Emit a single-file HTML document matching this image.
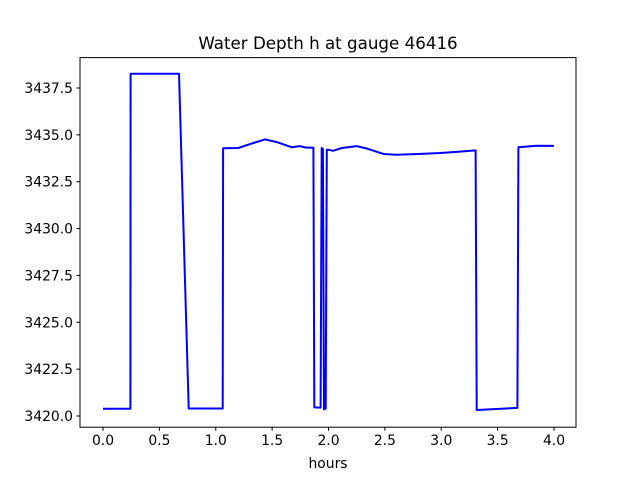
<!DOCTYPE html>
<html><head><meta charset="utf-8"><style>
html,body{margin:0;padding:0;background:#fff;}
svg text{font-family:"DejaVu Sans","Liberation Sans",sans-serif;fill:#000;}
</style></head><body>
<svg id="chart" width="640" height="480" viewBox="0 0 640 480" xmlns="http://www.w3.org/2000/svg">
<rect width="640" height="480" fill="#fff"/>
<text x="328" y="49" font-size="16.7" text-anchor="middle">Water Depth h at gauge 46416</text>
<text x="328" y="468" font-size="13.9" text-anchor="middle">hours</text>
<g id="ticks"></g>
<polyline id="series" fill="none" stroke="#0000ff" stroke-width="2" stroke-linejoin="round"/>
<rect x="80" y="57.6" width="496" height="369.6" fill="none" stroke="#000" stroke-width="1"/>
</svg>
<script>
const hours = [0,0.243,0.245,0.674,0.76,1.062,1.065,1.2,1.3,1.437,1.55,1.673,1.747,1.8,1.866,1.874,1.93,1.94,1.95,1.96,1.975,1.985,2.0,2.04,2.12,2.25,2.35,2.49,2.6,2.8,2.99,3.15,3.305,3.314,3.675,3.684,3.846,4.0];
const depth = [3420.39,3420.39,3438.26,3438.26,3420.4,3420.4,3434.28,3434.3,3434.5,3434.76,3434.6,3434.34,3434.4,3434.32,3434.32,3420.46,3420.45,3434.3,3434.25,3420.35,3420.4,3434.2,3434.2,3434.15,3434.3,3434.4,3434.25,3433.98,3433.94,3433.98,3434.03,3434.1,3434.17,3420.32,3420.43,3434.34,3434.42,3434.41];
const xTicks = [0,0.5,1,1.5,2,2.5,3,3.5,4];
const xTickLabels = ["0.0","0.5","1.0","1.5","2.0","2.5","3.0","3.5","4.0"];
const yTicks = [3420,3422.5,3425,3427.5,3430,3432.5,3435,3437.5];
const yTickLabels = ["3420.0","3422.5","3425.0","3427.5","3430.0","3432.5","3435.0","3437.5"];
const xs = t => 103 + 112.75 * t;
const ys = h => 416 - 18.743 * (h - 3420);
const NS = "http://www.w3.org/2000/svg";
const g = document.getElementById('ticks');
xTicks.forEach((t,i)=>{
  const l = document.createElementNS(NS,'line');
  
  
  l.setAttribute('x1',xs(t));l.setAttribute('x2',xs(t));l.setAttribute('y1',427.2);l.setAttribute('y2',430.7);l.setAttribute('stroke','#000');
  g.appendChild(l);
  const tx = document.createElementNS(NS,'text');
  
  
  tx.setAttribute('x',xs(t));tx.setAttribute('y',445);tx.setAttribute('font-size','13.9');tx.setAttribute('text-anchor','middle');
  tx.textContent = xTickLabels[i];
  g.appendChild(tx);
});
yTicks.forEach((v,i)=>{
  const l = document.createElementNS(NS,'line');
  
  
  l.setAttribute('x1',76.5);l.setAttribute('x2',80);l.setAttribute('y1',ys(v));l.setAttribute('y2',ys(v));l.setAttribute('stroke','#000');
  g.appendChild(l);
  const tx = document.createElementNS(NS,'text');
  
  
  tx.setAttribute('x',73);tx.setAttribute('y',ys(v)+5);tx.setAttribute('font-size','13.9');tx.setAttribute('text-anchor','end');
  tx.textContent = yTickLabels[i];
  g.appendChild(tx);
});
document.getElementById('series').setAttribute('points', hours.map((t,i)=>xs(t).toFixed(1)+','+ys(depth[i]).toFixed(1)).join(' '));
</script>
</body></html>
